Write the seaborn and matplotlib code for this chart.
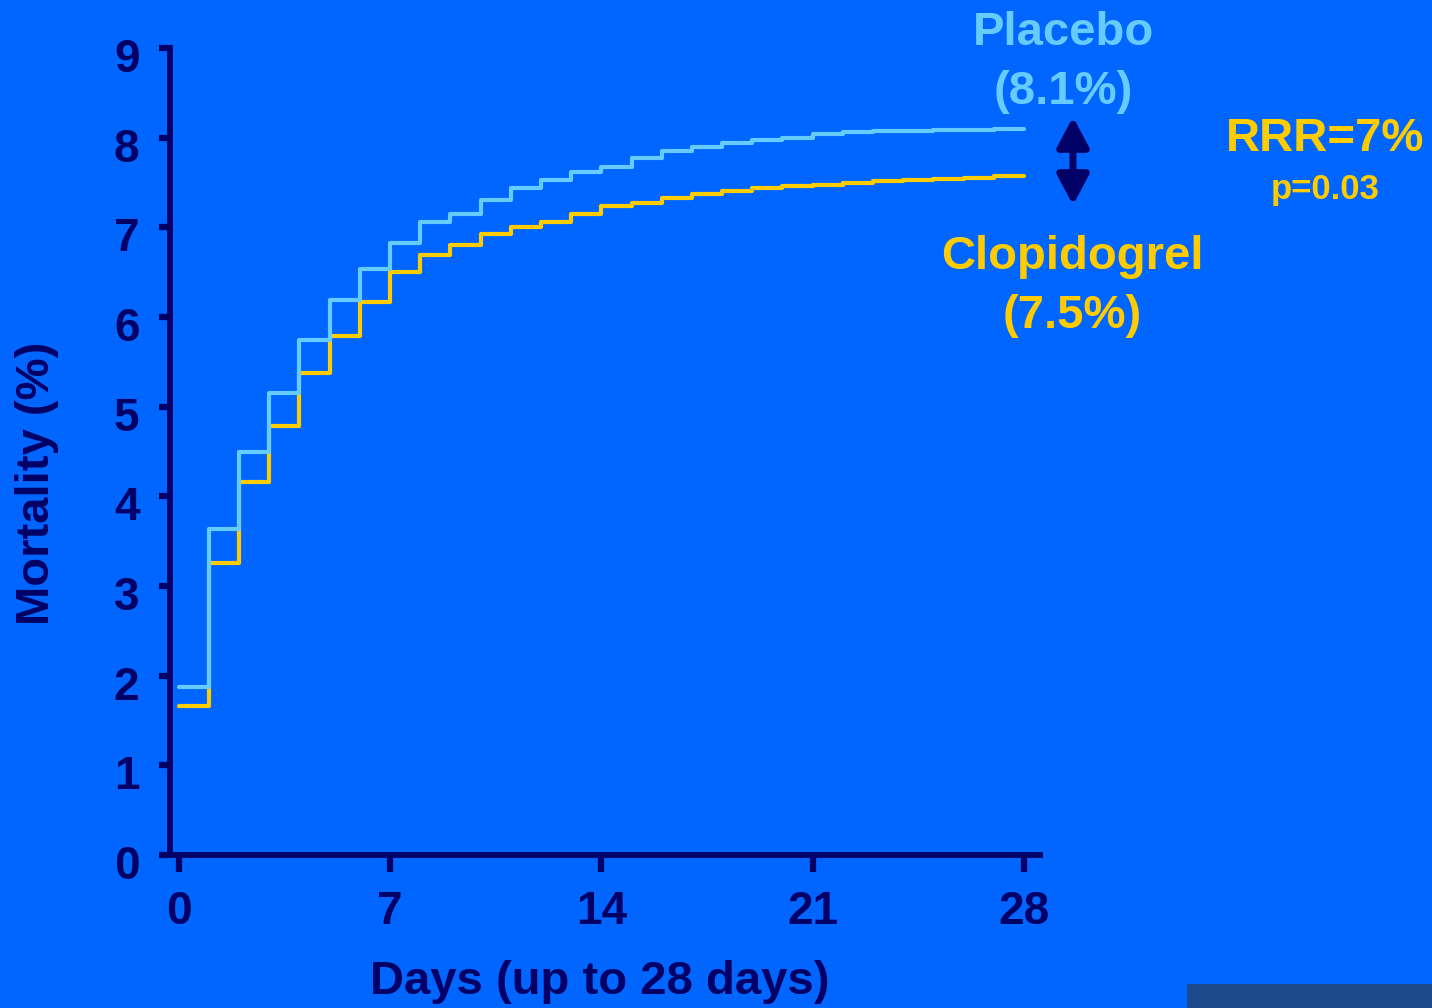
import matplotlib
matplotlib.use("Agg")
import matplotlib.pyplot as plt
import matplotlib.transforms as mtransforms
import seaborn as sns
import pandas as pd
from matplotlib.patches import Rectangle

# ---- data ----
days = list(range(0, 29))
placebo = [1.87, 3.64, 4.49, 5.15, 5.74, 6.19, 6.54, 6.83, 7.06, 7.15,
           7.30, 7.44, 7.53, 7.62, 7.67, 7.77, 7.85, 7.90, 7.94, 7.97,
           8.00, 8.04, 8.06, 8.07, 8.07, 8.08, 8.08, 8.10, 8.10]
clopidogrel = [1.66, 3.26, 4.16, 4.78, 5.37, 5.79, 6.17, 6.50, 6.69, 6.80,
               6.93, 7.00, 7.06, 7.15, 7.24, 7.27, 7.33, 7.37, 7.41, 7.44,
               7.46, 7.47, 7.50, 7.52, 7.53, 7.54, 7.55, 7.57, 7.57]
groups = ["Placebo", "Clopidogrel"]
x_ticks = [0, 7, 14, 21, 28]
y_ticks = list(range(0, 10))
placebo_label = ["Placebo", "(8.1%)"]
clop_label = ["Clopidogrel", "(7.5%)"]
rrr_label = "RRR=7%"
p_label = "p=0.03"
x_label = "Days (up to 28 days)"
y_label = "Mortality (%)"

BG = "#0066FF"
NAVY = "#000066"
LIGHT = "#66CCFF"
GOLD = "#FFCC00"

df = pd.DataFrame({
    "day": days + days,
    "mortality": placebo + clopidogrel,
    "group": [groups[0]] * len(days) + [groups[1]] * len(days),
})

sns.set_theme(style="white")
plt.rcParams["font.family"] = ["Liberation Sans", "DejaVu Sans"]

W, H = 1432, 1008
fig = plt.figure(figsize=(W / 100, H / 100), dpi=100, facecolor=BG)
x0, x1, y0, y1 = 170, 1040, 855, 48
ax = fig.add_axes([x0 / W, (H - y0) / H, (x1 - x0) / W, (y0 - y1) / H])
ax.set_facecolor(BG)

sns.lineplot(data=df, x="day", y="mortality", hue="group",
             palette={groups[0]: LIGHT, groups[1]: GOLD},
             hue_order=[groups[1], groups[0]],
             estimator=None, sort=True, drawstyle="steps-post",
             linewidth=3.0, legend=False, ax=ax)

px_per_day = (1024 - 390) / 21.0
day0 = 390 - 7 * px_per_day
ax.set_xlim((x0 - day0) / px_per_day, (x1 - day0) / px_per_day)
ax.set_ylim(0, 9)
ax.set_xticks(x_ticks)
ax.set_yticks(y_ticks)
ax.set_xticklabels([str(t) for t in x_ticks], fontsize=33, fontweight="bold",
                   color=NAVY)
ax.set_yticklabels([str(t) for t in y_ticks], fontsize=33, fontweight="bold",
                   color=NAVY)

for s in ["top", "right"]:
    ax.spines[s].set_visible(False)
for s in ["left", "bottom"]:
    ax.spines[s].set_color(NAVY)
    ax.spines[s].set_linewidth(4.2)
ax.tick_params(axis="x", bottom=True, direction="out", length=12, width=4.5,
               color=NAVY, pad=13)
ax.tick_params(axis="y", left=True, direction="out", length=8, width=4.5,
               color=NAVY, pad=14)
ax.grid(False)

# shift y tick labels slightly down, as in the reference
offset = mtransforms.ScaledTranslation(0, -5 / 72, fig.dpi_scale_trans)
for lab in ax.get_yticklabels():
    lab.set_transform(lab.get_transform() + offset)

ax.set_xlabel(x_label, fontsize=34, fontweight="bold", color=NAVY)
ax.set_ylabel(y_label, fontsize=34, fontweight="bold", color=NAVY)
ax.xaxis.set_label_coords((600 - x0) / (x1 - x0), -(982 - y0) / (y0 - y1))
ax.yaxis.set_label_coords((37 - x0) / (x1 - x0), (y0 - 483) / (y0 - y1))
ax.xaxis.label.set_va("center")
ax.yaxis.label.set_va("center")


def ftext(px, py, s, **kw):
    fig.text(px / W, (H - py) / H, s, ha="center", va="center", **kw)


ftext(1063, 33, placebo_label[0], fontsize=34, fontweight="bold", color=LIGHT)
ftext(1063, 92, placebo_label[1], fontsize=34, fontweight="bold", color=LIGHT)
ftext(1072, 257, clop_label[0], fontsize=34, fontweight="bold", color=GOLD)
ftext(1072, 316, clop_label[1], fontsize=34, fontweight="bold", color=GOLD)
ftext(1325, 139, rrr_label, fontsize=34, fontweight="bold", color=GOLD)
ftext(1325, 189, p_label, fontsize=25, fontweight="bold", color=GOLD)

ax.annotate("", xy=(1073, H - 117), xytext=(1073, H - 205),
            xycoords="figure pixels", textcoords="figure pixels",
            arrowprops=dict(arrowstyle="<|-|>,head_length=0.6,head_width=0.32",
                            mutation_scale=30, color=NAVY, lw=5,
                            shrinkA=0, shrinkB=0))

fig.patches.append(Rectangle((1187 / W, 0), (W - 1187) / W, 24 / H,
                             transform=fig.transFigure, facecolor="#1C4A8A",
                             edgecolor="none"))

fig.savefig("out.png", dpi=100, facecolor=BG)
